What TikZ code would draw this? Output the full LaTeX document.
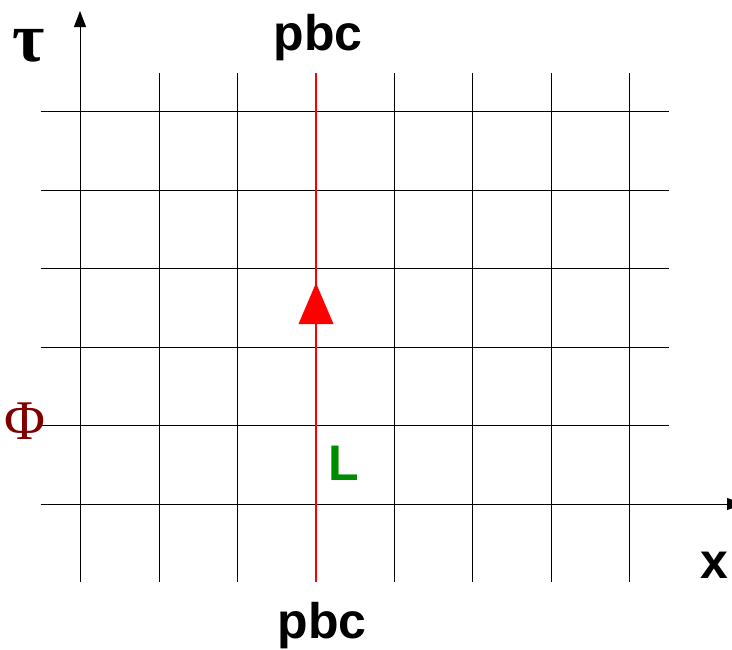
\documentclass[tikz,border=0pt]{standalone}
\usepackage{fontspec}
\setmainfont{Liberation Serif}
\newfontfamily\lsans{Liberation Sans}
\usetikzlibrary{arrows.meta}
\definecolor{phired}{RGB}{128,0,0}
\definecolor{lgreen}{RGB}{0,140,0}
\definecolor{lred}{RGB}{255,0,0}
\begin{document}
\begin{tikzpicture}[x=1pt,y=-1pt,
  gridline/.style={draw=black,line width=0.9pt},
  axisline/.style={draw=black,line width=0.9pt,-{Triangle[length=16pt,width=12pt]}},
  boldlabel/.style={font=\lsans\bfseries\fontsize{50}{50}\selectfont,inner sep=0pt,anchor=base},
  greeklabel/.style={inner sep=0pt,anchor=base}]
\useasboundingbox (0,0) rectangle (732,649);
% grid
\foreach \xx in {159,237,394,472,551,629}
  \draw[gridline] (\xx,73) -- (\xx,582);
\draw[gridline] (316,73) -- (316,582);
\foreach \yy in {111,190,268,347,425}
  \draw[gridline] (41,\yy) -- (669,\yy);
% axes
\coordinate (ybot) at (80,582);
\coordinate (ytop) at (80,11);
\coordinate (xl) at (41,504);
\coordinate (xr) at (743,504);
\draw[axisline] (ybot) -- (ytop);
\draw[axisline] (xl) -- (xr);
% red Polyakov line
\coordinate (rb) at (316,582);
\coordinate (rt) at (316,73);
\draw[lred,line width=2pt] (rb) -- (rt);
\fill[lred] (316,283) -- (333.5,324) -- (298.5,324) -- cycle;
% labels
\node[boldlabel] (pbct) at (318,50) {pbc};
\node[boldlabel] (pbcb) at (322,638) {pbc};
\node[boldlabel] (xlab) at (714,578) {x};
\node[boldlabel,text=lgreen] (llab) at (344,480) {L};
\node[greeklabel,font=\bfseries\fontsize{70}{70}\selectfont] (tau) at (28.5,61) {τ};
\node[greeklabel,font=\fontsize{56}{56}\selectfont,text=phired] (phi) at (25,439) {Φ};
\end{tikzpicture}
\end{document}
